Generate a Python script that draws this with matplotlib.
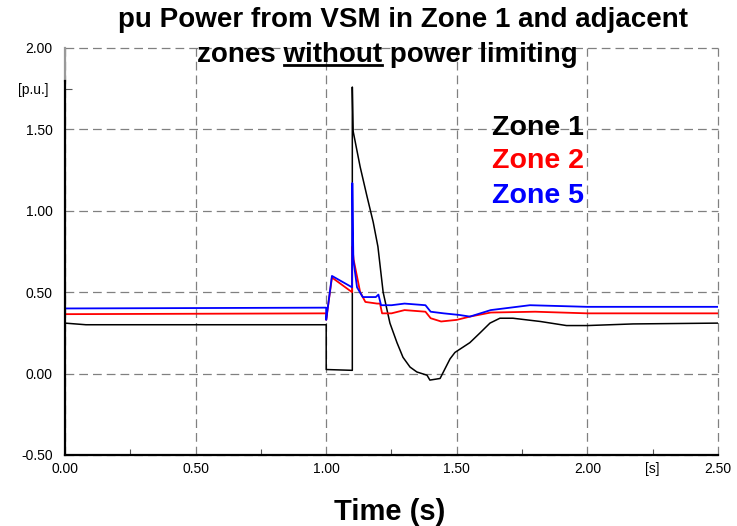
import numpy as np
import matplotlib.pyplot as plt
from matplotlib.lines import Line2D
from matplotlib.ticker import FixedLocator, FixedFormatter

plt.rcParams['font.family'] = ['Liberation Sans', 'DejaVu Sans']

# Zone 1 (black)
t_z1 = [0.0, 0.08, 1.0, 1.0, 1.10, 1.10, 1.103, 1.13, 1.156, 1.18, 1.198, 1.218,
        1.244, 1.271, 1.294, 1.321, 1.347, 1.386, 1.397, 1.436, 1.474, 1.493,
        1.512, 1.55, 1.589, 1.627, 1.665, 1.715, 1.82, 1.92, 2.0, 2.175, 2.5]
p_z1 = [0.31, 0.30, 0.30, 0.025, 0.02, 1.76, 1.49, 1.27, 1.09, 0.93, 0.78, 0.50,
        0.31, 0.19, 0.10, 0.04, 0.01, -0.01, -0.04, -0.03, 0.09, 0.13,
        0.15, 0.19, 0.25, 0.31, 0.34, 0.34, 0.32, 0.295, 0.295, 0.305, 0.31]

# Zone 2 (red)
t_z2 = [0.0, 1.0, 1.0, 1.022, 1.099, 1.10, 1.105, 1.13, 1.15, 1.195, 1.206,
        1.214, 1.25, 1.30, 1.38, 1.40, 1.44, 1.50, 1.55, 1.63, 1.80, 2.0, 2.5]
p_z2 = [0.365, 0.37, 0.33, 0.59, 0.50, 0.78, 0.70, 0.50, 0.44, 0.43, 0.43,
        0.37, 0.37, 0.39, 0.38, 0.34, 0.32, 0.33, 0.35, 0.375, 0.38, 0.37, 0.37]

# Zone 5 (blue)
t_z5 = [0.0, 1.0, 1.0, 1.022, 1.099, 1.10, 1.104, 1.118, 1.14, 1.19, 1.20,
        1.21, 1.25, 1.30, 1.38, 1.40, 1.45, 1.51, 1.55, 1.63, 1.78, 2.0, 2.5]
p_z5 = [0.40, 0.405, 0.33, 0.60, 0.53, 1.17, 0.70, 0.53, 0.47, 0.47, 0.485,
        0.42, 0.42, 0.43, 0.42, 0.38, 0.37, 0.36, 0.35, 0.39, 0.42, 0.41, 0.41]

x_major = [0.0, 0.5, 1.0, 1.5, 2.0, 2.5]
x_minor = [0.25, 0.75, 1.25, 1.75, 2.25]
y_major = [-0.5, 0.0, 0.5, 1.0, 1.5, 2.0]

fig = plt.figure(figsize=(7.37, 5.26), dpi=100)
ax = fig.add_axes([0.0882, 0.135, 0.886, 0.7738])

ax.plot(t_z1, p_z1, color='black', lw=1.1)
ax.plot(t_z2, p_z2, color='#ff0000', lw=1.3)
ax.plot(t_z5, p_z5, color='#0000ff', lw=1.3)

ax.set_xlim(0, 2.5)
ax.set_ylim(-0.5, 2.0)

ax.xaxis.set_major_locator(FixedLocator(x_major))
ax.xaxis.set_major_formatter(FixedFormatter([f'{v:.2f}' for v in x_major]))
ax.xaxis.set_minor_locator(FixedLocator(x_minor))
ax.xaxis.set_minor_formatter(FixedFormatter(['', '', '', '', '[s]']))
ax.yaxis.set_major_locator(FixedLocator(y_major))
ax.yaxis.set_major_formatter(FixedFormatter([f'{v:.2f}' for v in y_major]))
ax.yaxis.set_minor_locator(FixedLocator([1.75]))
ax.yaxis.set_minor_formatter(FixedFormatter(['[p.u.]']))

ax.tick_params(which='both', direction='in', labelsize=10, colors='black')
ax.tick_params(axis='x', which='major', length=0, pad=5)
ax.tick_params(axis='x', which='minor', length=4, width=0.8, pad=5, color='#555555')
ax.tick_params(axis='y', which='major', length=0, pad=9)
ax.tick_params(axis='y', which='minor', length=5, width=0.8, pad=12, color='#555555')

ax.grid(True, which='major', color='#808080', linestyle=(0, (7, 4)), lw=0.9)
for gl in ax.get_xgridlines() + ax.get_ygridlines():
    gl.set_clip_on(False)

for s in ['top', 'right']:
    ax.spines[s].set_visible(False)
ax.spines['bottom'].set_linewidth(1.6)
ax.spines['left'].set_linewidth(1.6)
ax.spines['left'].set_bounds(-0.5, 1.8)
ax.plot([0, 0], [1.8, 2.0], color='#999999', lw=1.6, clip_on=False)

# legend as coloured text
ax.text(1.635, 1.51, 'Zone 1', color='black', fontsize=20.5, fontweight='bold', va='center')
ax.text(1.635, 1.307, 'Zone 2', color='#ff0000', fontsize=20.5, fontweight='bold', va='center')
ax.text(1.635, 1.09, 'Zone 5', color='#0000ff', fontsize=20.5, fontweight='bold', va='center')

# title with underlined word
tsize = 20
fig.text(0.547, 0.962, 'pu Power from VSM in Zone 1 and adjacent',
         ha='center', va='center', fontsize=tsize, fontweight='bold')
y2 = 0.895
x2 = 0.526
fig.canvas.draw()
r = fig.canvas.get_renderer()
parts = ['zones ', 'without', ' power limiting']
widths = []
for p in parts:
    tt = fig.text(0, 0, p.replace(' ', '\u00a0'), fontsize=tsize, fontweight='bold')
    widths.append(tt.get_window_extent(r).width / fig.bbox.width)
    tt.remove()
full = fig.text(x2, y2, 'zones without power limiting', ha='center', va='center',
                fontsize=tsize, fontweight='bold')
bb = full.get_window_extent(r)
x0 = bb.x0 / fig.bbox.width
ux0 = x0 + widths[0]
ux1 = ux0 + widths[1]
uy = bb.y0 / fig.bbox.height + 0.006
fig.add_artist(Line2D([ux0, ux1], [uy, uy], color='black', lw=2,
                      transform=fig.transFigure))

fig.text(0.529, 0.027, 'Time (s)', ha='center', va='center', fontsize=21, fontweight='bold')

fig.savefig('out.png', dpi=100)
